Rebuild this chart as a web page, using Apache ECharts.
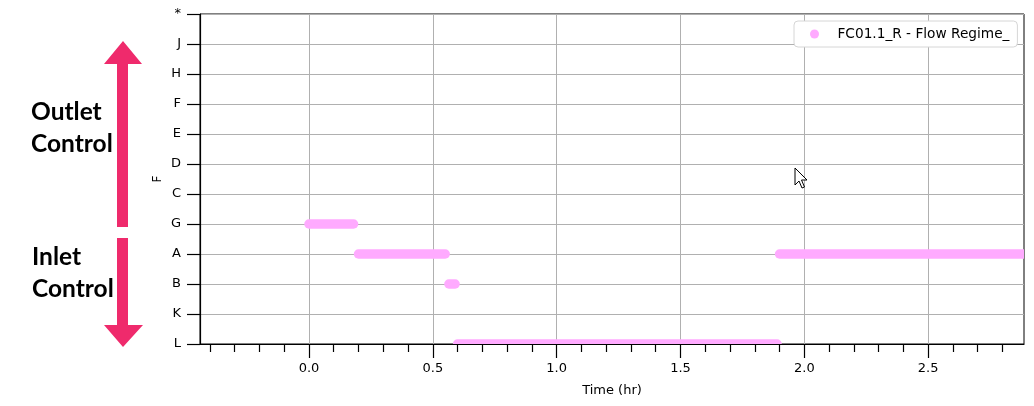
<!DOCTYPE html>
<html>
<head>
<meta charset="utf-8">
<script src="https://cdn.jsdelivr.net/npm/echarts@6/dist/echarts.min.js"></script>
<style>
html,body{margin:0;padding:0;background:#fff;}
#chart{width:1034px;height:406px;}
</style>
</head>
<body>
<div id="chart"></div>
<script>
// Flow regime categories, bottom to top
const categories = ['L', 'K', 'B', 'A', 'G', 'C', 'D', 'E', 'F', 'H', 'J', '*'];
// Runs of constant regime (time in hr)
const runStart  = [0.0, 0.2, 0.565, 0.6, 1.9];
const runEnd    = [0.18, 0.55, 0.59, 1.89, 2.95];
const runRegime = ['G', 'A', 'B', 'L', 'A'];
// X axis ticks
const xMajorTicks = [0, 0.5, 1.0, 1.5, 2.0, 2.5];
const xMin = -0.44;
const xMax = 2.887;

const seriesName = 'FC01.1_R - Flow Regime_';
const pink = '#ffaaff';
const font = 'DejaVu Sans';
const bandH = 9.5;

const runData = runStart.map((s, i) => [s, runEnd[i], categories.indexOf(runRegime[i])]);

const arrowColor = '#ef2a6c';

const chart = echarts.init(document.getElementById('chart'), null, { renderer: 'canvas' });
chart.setOption({
  animation: false,
  backgroundColor: '#fff',
  grid: { left: 200, right: 10, top: 14, bottom: 62, show: true, borderColor: '#000', borderWidth: 1, backgroundColor: 'transparent' },
  legend: {
    data: [{ name: seriesName, icon: 'circle' }],
    left: 794, top: 21,
    itemWidth: 20, itemHeight: 9,
    padding: [6, 8, 6, 16],
    backgroundColor: '#fff',
    borderColor: '#d6d6d6', borderWidth: 1, borderRadius: 4,
    textStyle: { fontFamily: font, fontSize: 13.7, color: '#000', padding: [0, 0, 0, 8] }
  },
  xAxis: {
    type: 'value',
    min: xMin, max: xMax,
    name: 'Time (hr)',
    nameLocation: 'middle',
    nameGap: 40,
    nameTextStyle: { fontFamily: font, fontSize: 13, color: '#000' },
    axisLine: { show: true, onZero: false, lineStyle: { color: '#000', width: 1.2 } },
    axisTick: { show: true, length: 14, customValues: xMajorTicks, lineStyle: { color: '#000', width: 1.2 } },
    minorTick: { show: true, splitNumber: 5, length: 8, lineStyle: { color: '#000', width: 1.2 } },
    axisLabel: { customValues: xMajorTicks, margin: 18, fontFamily: font, fontSize: 13, color: '#000', formatter: v => v.toFixed(1) },
    splitLine: { show: true, lineStyle: { color: '#b0b0b0', width: 1 } }
  },
  yAxis: {
    type: 'category',
    data: categories,
    boundaryGap: false,
    name: 'F',
    nameLocation: 'middle',
    nameGap: 36,
    nameMoveOverlap: false,
    nameTextStyle: { fontFamily: font, fontSize: 12, color: '#000' },
    axisLine: { show: true, onZero: false, lineStyle: { color: '#000', width: 1.2 } },
    axisTick: { show: true, length: 13, alignWithLabel: true, interval: 0, lineStyle: { color: '#000', width: 1.2 } },
    axisLabel: { margin: 19, interval: 0, fontFamily: font, fontSize: 13, color: '#000' },
    splitLine: { show: true, interval: 0, lineStyle: { color: '#b0b0b0', width: 1 } }
  },
  series: [{
    name: seriesName,
    type: 'custom',
    clip: true,
    silent: true,
    itemStyle: { color: pink },
    encode: { x: [0, 1], y: 2 },
    data: runData,
    renderItem: function (params, api) {
      const p0 = api.coord([api.value(0), api.value(2)]);
      const p1 = api.coord([api.value(1), api.value(2)]);
      const h = bandH;
      return {
        type: 'rect',
        shape: { x: p0[0] - h / 2, y: p0[1] - h / 2, width: p1[0] - p0[0] + h, height: h, r: h / 2 },
        style: { fill: pink }
      };
    },
    z: 3
  }],
  graphic: [
    { type: 'polygon', silent: true, shape: { points: [[123,41],[142,64],[128,64],[128,227],[117,227],[117,64],[104,64]] }, style: { fill: arrowColor } },
    { type: 'polygon', silent: true, shape: { points: [[117,238],[128,238],[128,325],[143,325],[123,347],[104,325],[117,325]] }, style: { fill: arrowColor } },
    { type: 'text', silent: true, left: 31, top: 96, style: { text: 'Outlet\nControl', font: 'bold 24.5px Lato', fill: '#000', lineHeight: 32 } },
    { type: 'text', silent: true, left: 32, top: 241, style: { text: 'Inlet\nControl', font: 'bold 24.5px Lato', fill: '#000', lineHeight: 32 } },
    { type: 'polygon', silent: true, z: 100, shape: { points: [[795,168],[795,185],[799,181],[802,188],[804.5,187],[801.5,180],[807,180]] }, style: { fill: '#fff', stroke: '#000', lineWidth: 1 } }
  ]
});
</script>
</body>
</html>
